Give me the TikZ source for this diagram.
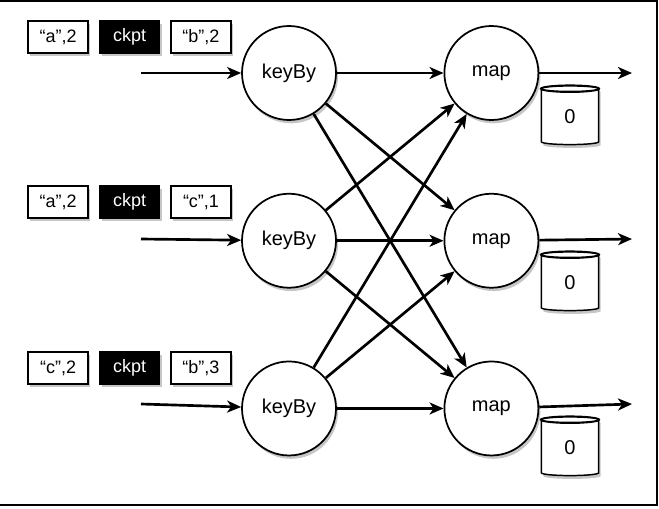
\documentclass[tikz,border=0pt]{standalone}
\usepackage{fontspec}
\setmainfont{Liberation Sans}
\usepackage{tikz}
\usetikzlibrary{arrows.meta,positioning,shapes.geometric,shadows,calc}

\begin{document}
\begin{tikzpicture}[
		    x=0.75pt, y=-0.75pt,
		    node distance=54pt and 80pt,
		    shade/.style={drop shadow={shadow xshift=1.5pt, shadow yshift=-2.5pt, opacity=0.45}},
		    op/.style={draw, circle, line width=1.3pt, minimum size=70.5pt, inner sep=0pt, fill=white, font=\fontsize{15}{18}\selectfont, shade},
		    rec/.style={draw, rectangle, line width=1.1pt, minimum width=45pt, minimum height=24pt, inner sep=0pt, fill=white, font=\fontsize{13.5}{16}\selectfont, shade},
		    barrier/.style={rec, fill=black, text=white},
		    store/.style={draw, cylinder, shape border rotate=90, aspect=0.5, line width=1.1pt, minimum width=43pt, minimum height=44pt, inner sep=0pt, fill=white, font=\fontsize{15}{18}\selectfont, shade},
		    arr/.style={-{Stealth[length=10.5pt, width=9pt, inset=3pt]}, line width=2pt},
		]
		    \useasboundingbox (0,0) rectangle (659,508);
		    \draw [line width=1.5pt] (-2,1) -- (657,1) -- (657,505) -- (-2,505);
		    
		    % Operators
		    \node [op] (kb1) at (289,73) {keyBy};
		    \node [op, below=of kb1] (kb2) {keyBy};
		    \node [op, below=of kb2] (kb3) {keyBy};
		    \node [op, right=of kb1] (map1) {map};
		    \node [op, right=of kb2] (map2) {map};
		    \node [op, right=of kb3] (map3) {map};
		    
		    % Input streams with barriers
		    \node [rec] (tb1) at (201,37) {“b”,2};
		    \node [barrier, left=7.5pt of tb1] (ck1) {ckpt};
		    \node [rec, left=7.5pt of ck1] (ta1) {“a”,2};
		    \node [rec] (tb2) at (201,202) {“c”,1};
		    \node [barrier, left=7.5pt of tb2] (ck2) {ckpt};
		    \node [rec, left=7.5pt of ck2] (ta2) {“a”,2};
		    \node [rec] (tb3) at (201,368) {“b”,3};
		    \node [barrier, left=7.5pt of tb3] (ck3) {ckpt};
		    \node [rec, left=7.5pt of ck3] (ta3) {“c”,2};
		    
		    % State
		    \node [store] (st1) at (570,117) {0};
		    \node [store] (st2) at (570,283) {0};
		    \node [store] (st3) at (570,448) {0};
		    \foreach \s in {st1,st2,st3}
		        \draw [line width=1.1pt] let \p1=(\s.before top), \p2=(\s.top), \p3=(\s.after top) in
		            ($(\s.before top)!0.5!(\s.after top)$) ellipse [x radius={abs(\x3-\x1)/2}, y radius={abs(\y2-\y1)}];
		    
		    % Sources and sinks
		    \coordinate (in1) at (141,73);
		    \coordinate (in2) at (141,239);
		    \coordinate (in3) at (141,404);
		    \coordinate (out1) at (632,73);
		    \coordinate (out2) at (632,239);
		    \coordinate (out3) at (632,404);
		    
		    \draw [arr] (in1) -- (kb1);
		    \draw [arr] (in2) -- (kb2);
		    \draw [arr] (in3) -- (kb3);
		    
		    % Shuffle
		    \draw [arr] (kb1) -- (map1);
		    \draw [arr] (kb1) -- (map2);
		    \draw [arr] (kb1) -- (map3);
		    \draw [arr] (kb2) -- (map1);
		    \draw [arr] (kb2) -- (map2);
		    \draw [arr] (kb2) -- (map3);
		    \draw [arr] (kb3) -- (map1);
		    \draw [arr] (kb3) -- (map2);
		    \draw [arr] (kb3) -- (map3);
		    
		    \draw [arr] (map1) -- (out1);
		    \draw [arr] (map2) -- (out2);
		    \draw [arr] (map3) -- (out3);
		\end{tikzpicture}
\end{document}
